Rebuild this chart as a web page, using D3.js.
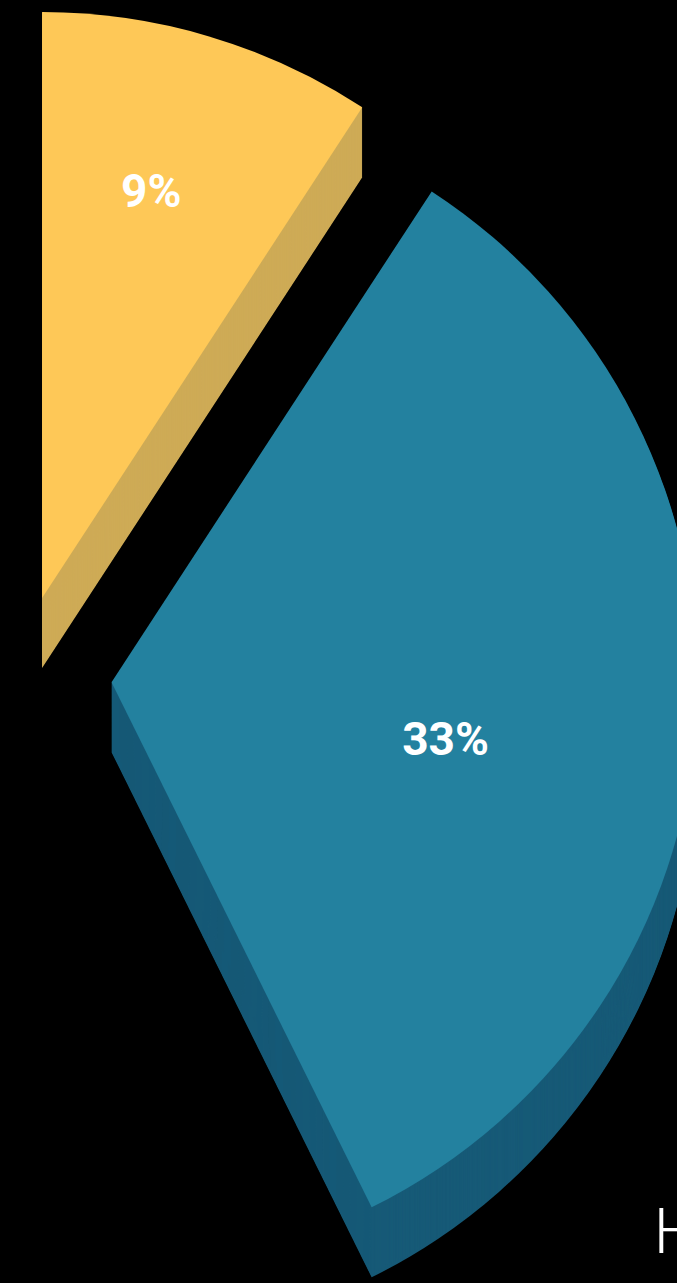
<!DOCTYPE html>
<html>
<head>
<meta charset="utf-8">
<script src="https://cdn.jsdelivr.net/npm/d3@7"></script>
<style>
  html, body { margin: 0; padding: 0; background: #000; }
  svg { display: block; }
</style>
</head>
<body>
<svg id="chart" width="677" height="1283"></svg>
<script>
// Slice data (percent of total)
const categories = ["A", "B"];
const values = [9.2, 33.48];
const topColors = ["#FEC857", "#23819F"];
const sideColors = ["#CEAB57", "#175A77"];
const titleText = "H";

// Layout
const W = 677, H = 1283;
const radius = 586;
const depth = 70;
const center = [18.7, 676.7];
const pullOut = [82, 93];            // explode distance per slice
const labelPlace = [                 // fraction along the slice sweep, fraction of radius
  { t: 0.453, r: 0.72 },
  { t: 0.551, r: 0.578 }
];

const svg = d3.select("#chart");
svg.append("rect").attr("width", W).attr("height", H).attr("fill", "#000");

const angle = d3.scaleLinear().domain([0, 100]).range([0, 2 * Math.PI]);
const arc = d3.arc().innerRadius(0).outerRadius(radius);

let cum = 0;
const slices = values.map((v, i) => {
  const s = { value: v, startAngle: angle(cum), endAngle: angle(cum + v), i };
  cum += v;
  const mid = (s.startAngle + s.endAngle) / 2;
  s.cx = center[0] + pullOut[i] * Math.sin(mid);
  s.cy = center[1] - pullOut[i] * Math.cos(mid);
  return s;
});

const g = svg.append("g");

slices.forEach(s => {
  const sg = g.append("g").attr("class", "slice slice-" + categories[s.i]);
  // extruded side: stacked copies of the slice shape
  for (let dy = depth; dy >= 1; dy--) {
    sg.append("path")
      .attr("d", arc(s))
      .attr("transform", `translate(${s.cx},${s.cy + dy})`)
      .attr("fill", sideColors[s.i]);
  }
  // top face
  sg.append("path")
    .attr("d", arc(s))
    .attr("transform", `translate(${s.cx},${s.cy})`)
    .attr("fill", topColors[s.i]);
});

// value labels
const fontSize = 46;
slices.forEach(s => {
  const lp = labelPlace[s.i];
  const a = s.startAngle + lp.t * (s.endAngle - s.startAngle);
  const x = s.cx + lp.r * radius * Math.sin(a);
  const y = s.cy - lp.r * radius * Math.cos(a);
  g.append("text")
    .attr("x", x)
    .attr("y", y + 0.355 * fontSize)
    .attr("text-anchor", "middle")
    .attr("fill", "#fff")
    .style("font-family", "Roboto, 'Noto Sans', sans-serif")
    .style("font-weight", 700)
    .style("font-size", fontSize + "px")
    .text(Math.round(s.value) + "%");
});

// title
svg.append("text")
  .attr("x", 653.7)
  .attr("y", 1253)
  .attr("fill", "#fff")
  .style("font-family", "Roboto, sans-serif")
  .style("font-weight", 300)
  .style("font-size", "63px")
  .text(titleText);
</script>
</body>
</html>
